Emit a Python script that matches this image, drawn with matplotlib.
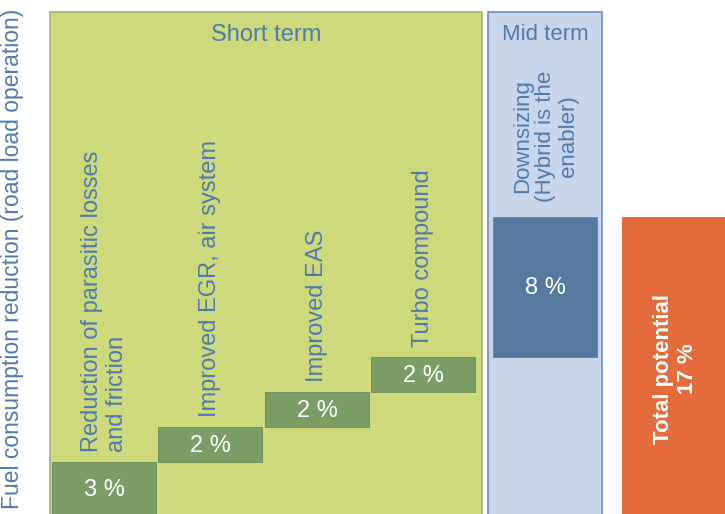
import numpy as np
import matplotlib
matplotlib.use("Agg")
import matplotlib.pyplot as plt
from matplotlib.patches import Rectangle

plt.rcParams['font.family'] = ['Liberation Sans', 'DejaVu Sans']

# data
short_labels = ["Reduction of parasitic losses\nand friction",
                "Improved EGR, air system",
                "Improved EAS",
                "Turbo compound"]
short_values = [3, 2, 2, 2]
mid_labels = ["Downsizing\n(Hybrid is the\nenabler)"]
mid_values = [8]
total_label = "Total potential"
total_value = 17
y_label = "Fuel consumption reduction (road load operation)"

# colours
panel_green = "#cdd97b"
panel_green_edge = "#9cb37e"
panel_blue = "#c8d5ea"
panel_blue_edge = "#6e8fbf"
bar_green = "#7a9e66"
bar_blue = "#56799f"
bar_orange = "#e46b3b"
text_blue = "#4f7bae"

fig = plt.figure(figsize=(7.25, 5.14), dpi=100)
ax = fig.add_axes([0, 0, 1, 1])
ax.set_xlim(0, 725)
ax.set_ylim(0, 29.4)
ax.axis('off')

# layout (pixel-like x units)
short_x = [104.5, 210.5, 317.5, 423]
mid_x = [545.5]
total_x = 674.5
bar_w = 104
panel_top = 28.7

# background panels
ax.add_patch(Rectangle((50, -1), 432, panel_top + 1, facecolor=panel_green,
                       edgecolor=panel_green_edge, linewidth=1.2, zorder=0))
ax.add_patch(Rectangle((488, -1), 114, panel_top + 1, facecolor=panel_blue,
                       edgecolor=panel_blue_edge, linewidth=1.2, zorder=0))
ax.text(266, 27.4, "Short term", ha='center', va='center', fontsize=17, color=text_blue)
ax.text(545, 27.4, "Mid term", ha='center', va='center', fontsize=16, color=text_blue)

# waterfall bars
vals = np.array(short_values + mid_values, dtype=float)
bottoms = np.concatenate([[0], np.cumsum(vals)[:-1]])
xs = short_x + mid_x
colors = [bar_green] * len(short_values) + [bar_blue] * len(mid_values)
ax.bar(xs, vals, bottom=bottoms, width=bar_w, color=colors,
       edgecolor="#6a8a5a", linewidth=0.6, zorder=2)
ax.bar([total_x], [total_value], width=bar_w, color=bar_orange, zorder=2)

for x, v, b in zip(xs, vals, bottoms):
    ax.text(x, b + v / 2 - 0.1, f"{int(v)} %", ha='center', va='center',
            fontsize=17, color='white', zorder=3)

for x, v, b, lab in zip(short_x, short_values, bottoms, short_labels):
    ax.text(x, b + v + 0.55, lab, rotation=90,
            ha='center', va='bottom', multialignment='left',
            fontsize=17, color=text_blue, linespacing=1.15, zorder=3)

top_mid = bottoms[-1] + vals[-1]
ax.text(mid_x[0], top_mid + 0.85, mid_labels[0], rotation=90, ha='center', va='bottom',
        multialignment='center', fontsize=16, color=text_blue, linespacing=1.1, zorder=3)

ax.text(total_x + 1, total_value / 2 - 0.2, f"{total_label}\n{total_value} %", rotation=90,
        ha='center', va='center', multialignment='center', fontsize=16,
        fontweight='bold', color='white', linespacing=1.2, zorder=3)

ax.text(13, 14.6, y_label, rotation=90, ha='center', va='center',
        fontsize=16.5, color=text_blue)

fig.savefig("out.png", dpi=100)
